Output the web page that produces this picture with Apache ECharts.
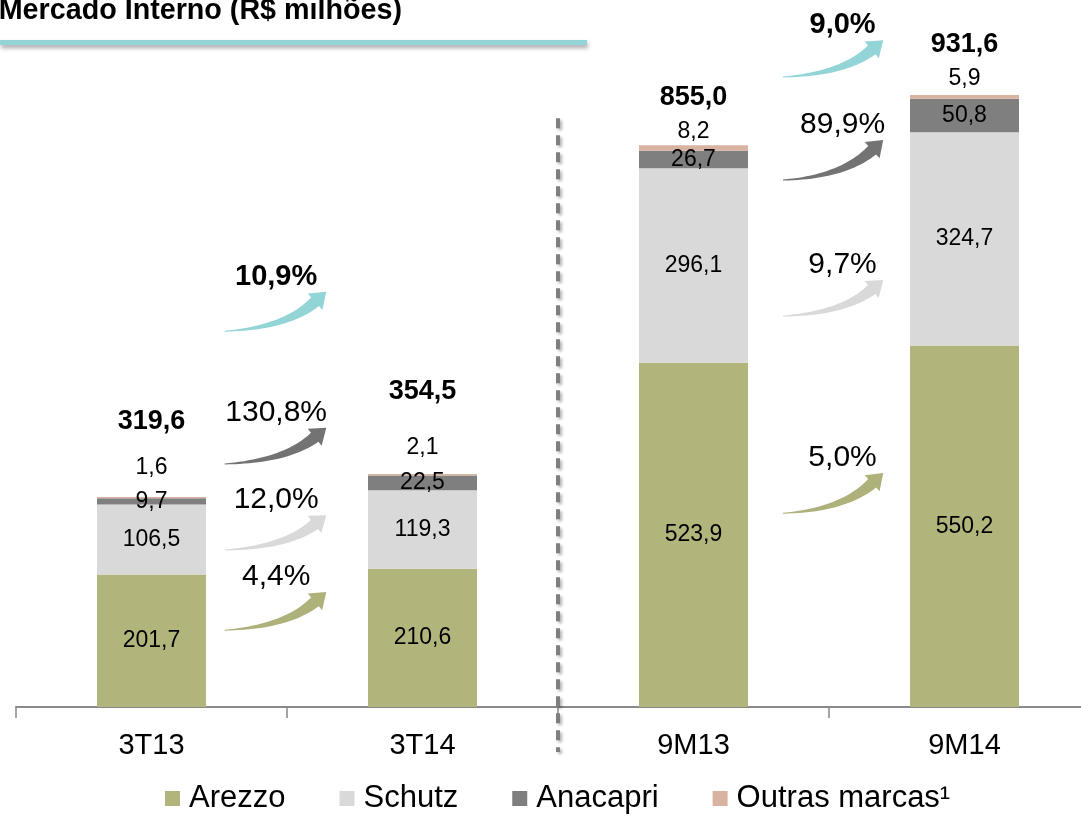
<!DOCTYPE html>
<html>
<head>
<meta charset="utf-8">
<script src="https://cdn.jsdelivr.net/npm/echarts@6/dist/echarts.min.js"></script>
<style>
html,body{margin:0;padding:0;background:#fff;}
#chart{width:1081px;height:819px;}
</style>
</head>
<body>
<div id="chart"></div>
<script>
// ---- data ----
const categories = ['3T13', '3T14', '9M13', '9M14'];
const arezzo   = [201.7, 210.6, 523.9, 550.2];
const schutz   = [106.5, 119.3, 296.1, 324.7];
const anacapri = [9.7, 22.5, 26.7, 50.8];
const outras   = [1.6, 2.1, 8.2, 5.9];
const totals   = [319.6, 354.5, 855.0, 931.6];
const seriesNames = ['Arezzo', 'Schutz', 'Anacapri', 'Outras marcas¹'];
// growth labels: Total, Anacapri, Schutz, Arezzo
const growth3T = ['10,9%', '130,8%', '12,0%', '4,4%'];
const growth9M = ['9,0%', '89,9%', '9,7%', '5,0%'];
const titleText = 'Mercado Interno (R$ milhões)';

// ---- layout (annotation placement, value units) ----
const arrowY3T = [[572, 632], [370, 425], [239, 292], [117, 175]];
const arrowY9M = [[959, 1015], [802, 863], [595, 650], [295, 356]];
const totalLabelDist = [62, 69, 34, 37];
const outrasLabelDist = [18, 15, 2, 5];

// ---- styles ----
const colors = ['#B1B57B', '#D9D9D9', '#7F7F7F', '#D8B3A2'];
const arrowColors = ['#93D4D7', '#737373', '#D9D9D9', '#AEB17A'];
const FONT = '"Liberation Sans", Arial, sans-serif';
const fmt = v => v.toFixed(1).replace('.', ',');

const chart = echarts.init(document.getElementById('chart'), null, {renderer: 'canvas'});

function inLabel() {
  return {show: true, position: 'inside', color: '#000', fontSize: 23, fontFamily: FONT,
    formatter: p => fmt(p.value)};
}
const barCommon = {type: 'bar', stack: 'total', barWidth: 109, silent: true};

const option = {
  animation: false,
  backgroundColor: '#fff',
  grid: {left: 16, top: 50, bottom: 112, width: 1084, containLabel: false, outerBoundsMode: 'none'},
  legend: {
    data: seriesNames, bottom: 0, left: 160, icon: 'rect',
    itemWidth: 15, itemHeight: 15, itemGap: 54,
    textStyle: {fontSize: 31, fontFamily: FONT, color: '#000', padding: [0, 0, 0, 4]}
  },
  xAxis: {
    type: 'category', data: categories,
    axisLine: {lineStyle: {color: '#898989', width: 2}},
    axisTick: {show: true, length: 11, lineStyle: {color: '#898989', width: 1.5}},
    axisLabel: {fontSize: 29, fontFamily: FONT, color: '#000', margin: 24}
  },
  yAxis: {type: 'value', min: 0, max: 1000, show: false, splitLine: {show: false}},
  series: [
    Object.assign({}, barCommon, {name: seriesNames[0], data: arezzo, itemStyle: {color: colors[0]}, label: inLabel()}),
    Object.assign({}, barCommon, {name: seriesNames[1], data: schutz, itemStyle: {color: colors[1]}, label: inLabel()}),
    Object.assign({}, barCommon, {name: seriesNames[2], data: anacapri, itemStyle: {color: colors[2]}, label: inLabel()}),
    Object.assign({}, barCommon, {name: seriesNames[3], itemStyle: {color: colors[3]},
      data: outras.map((v, i) => ({value: v, label: {distance: outrasLabelDist[i]}})),
      label: {show: true, position: 'top', color: '#000', fontSize: 23, fontFamily: FONT,
        formatter: p => fmt(p.value)}}),
    {
      type: 'scatter', name: 'Total', symbolSize: 0, silent: true,
      itemStyle: {opacity: 1, color: '#000'},
      data: totals.map((v, i) => ({value: v, label: {distance: totalLabelDist[i]}})),
      label: {show: true, position: 'top', color: '#000', fontSize: 27, fontWeight: 'bold', fontFamily: FONT,
        formatter: p => fmt(p.value)}
    }
  ]
};
chart.setOption(option);

// ---- annotations ----
function arrowPoly(x0, y0, x1, y1) {
  const dx = x1 - x0, dy = y1 - y0;
  const C = [x0 + 0.6 * dx, y0 + 0.08 * dy];
  let ux = x1 - C[0], uy = y1 - C[1];
  const ul = Math.hypot(ux, uy); ux /= ul; uy /= ul;
  const headLen = 15, headHalf = 11;
  const N = [x1 - ux * headLen, y1 - uy * headLen];
  const A = [], B = [];
  const n = 24;
  for (let i = 0; i <= n; i++) {
    const t = i / n;
    const px = (1 - t) * (1 - t) * x0 + 2 * (1 - t) * t * C[0] + t * t * N[0];
    const py = (1 - t) * (1 - t) * y0 + 2 * (1 - t) * t * C[1] + t * t * N[1];
    let tx = 2 * (1 - t) * (C[0] - x0) + 2 * t * (N[0] - C[0]);
    let ty = 2 * (1 - t) * (C[1] - y0) + 2 * t * (N[1] - C[1]);
    const tl = Math.hypot(tx, ty); tx /= tl; ty /= tl;
    const nx = -ty, ny = tx;
    const h = 0.5 + 5.3 * Math.pow(t, 1.1);
    A.push([px + nx * h, py + ny * h]);
    B.push([px - nx * h, py - ny * h]);
  }
  const nx = -uy, ny = ux;
  const pts = A.slice();
  pts.push([N[0] + nx * headHalf, N[1] + ny * headHalf]);
  pts.push([x1, y1]);
  pts.push([N[0] - nx * headHalf, N[1] - ny * headHalf]);
  for (let i = B.length - 1; i >= 0; i--) pts.push(B[i]);
  return pts;
}

function buildGraphics() {
  const g = [];
  const cx = categories.map(c => chart.convertToPixel({xAxisIndex: 0}, c));
  const py = v => chart.convertToPixel({yAxisIndex: 0}, v);
  const baseY = py(0);

  // title + underline
  g.push({type: 'text', x: 402, y: 26, style: {text: titleText, align: 'right', verticalAlign: 'bottom',
    font: 'bold 28.7px ' + FONT, fill: '#000'}, z: 10});
  g.push({type: 'rect', shape: {x: 0, y: 40, width: 587, height: 5},
    style: {fill: '#93D4D7', shadowColor: 'rgba(0,0,0,0.35)', shadowBlur: 4, shadowOffsetY: 3, shadowOffsetX: 1}, z: 10});

  // dashed separator between the quarter and nine-month groups
  const sepX = (cx[1] + cx[2]) / 2;
  g.push({type: 'line', shape: {x1: sepX, y1: py(896), x2: sepX, y2: baseY + 45},
    style: {stroke: '#7F7F7F', lineWidth: 4, lineDash: [10, 7],
      shadowColor: 'rgba(0,0,0,0.3)', shadowBlur: 3, shadowOffsetX: 2, shadowOffsetY: 2}, z: 10});

  // growth arrows
  const groups = [
    {a: cx[0], b: cx[1], f0: 0.27, f1: 0.645, fl: 0.46, ys: arrowY3T, labels: growth3T},
    {a: cx[2], b: cx[3], f0: 0.33, f1: 0.70, fl: 0.55, ys: arrowY9M, labels: growth9M}
  ];
  groups.forEach(gr => {
    const w = gr.b - gr.a;
    gr.ys.forEach((yy, k) => {
      const x0 = gr.a + gr.f0 * w, x1 = gr.a + gr.f1 * w;
      const y0 = py(yy[0]), y1 = py(yy[1]);
      g.push({type: 'polygon', shape: {points: arrowPoly(x0, y0, x1, y1)},
        style: {fill: arrowColors[k]}, z: 10});
      g.push({type: 'text', x: gr.a + gr.fl * w, y: y1 - 15,
        style: {text: gr.labels[k], align: 'center', verticalAlign: 'middle',
          font: (k === 0 ? 'bold 29px ' : '30px ') + FONT, fill: '#000'}, z: 11});
    });
  });
  return g;
}
chart.setOption({graphic: buildGraphics()});
</script>
</body>
</html>
